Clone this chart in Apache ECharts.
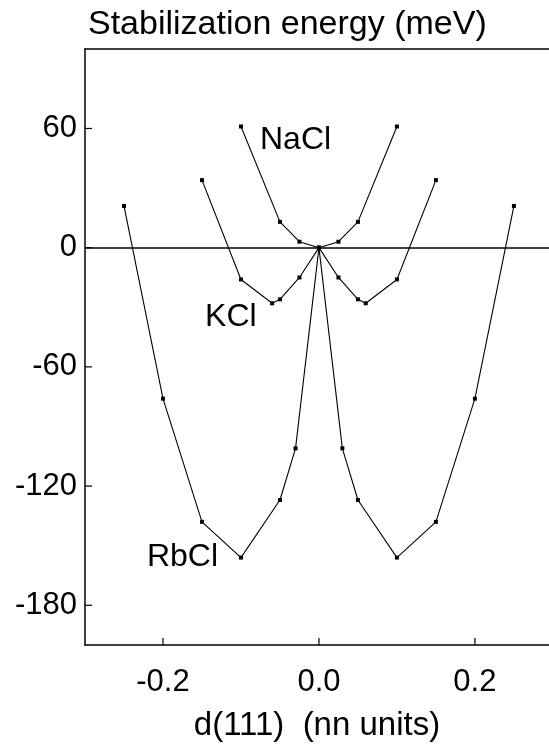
<!DOCTYPE html>
<html>
<head>
<meta charset="utf-8">
<script src="https://cdn.jsdelivr.net/npm/echarts@6/dist/echarts.min.js"></script>
<style>
  html, body { margin: 0; padding: 0; background: #fff; }
  #main { width: 549px; height: 749px; }
</style>
</head>
<body>
<div id="main"></div>
<script>
// d(111) in nn units vs stabilization energy in meV
const naclX = [-0.1, -0.05, -0.025, 0, 0.025, 0.05, 0.1];
const naclY = [61, 13, 3, 0, 3, 13, 61];

const kclX = [-0.15, -0.1, -0.06, -0.05, -0.025, 0, 0.025, 0.05, 0.06, 0.1, 0.15];
const kclY = [34, -16, -28, -26, -15, 0, -15, -26, -28, -16, 34];

const rbclX = [-0.25, -0.2, -0.15, -0.1, -0.05, -0.03, 0, 0.03, 0.05, 0.1, 0.15, 0.2, 0.25];
const rbclY = [21, -76, -138, -156, -127, -101, 0, -101, -127, -156, -138, -76, 21];

const xTicks = [-0.2, 0, 0.2];
const yTicks = [-180, -120, -60, 0, 60];

const xMin = -0.3, xMax = 0.295;
const yMin = -200, yMax = 100;

// where the curve names sit (data coords)
const labelPos = {
  NaCl: [-0.03, 54],
  KCl: [-0.113, -35],
  RbCl: [-0.175, -156]
};

const font = '"Liberation Sans", Arial, Helvetica, sans-serif';

function pairs(xs, ys) {
  return xs.map((x, i) => [x, ys[i]]);
}

function makeSeries(name, xs, ys) {
  return {
    name: name,
    type: 'line',
    data: pairs(xs, ys),
    symbol: 'rect',
    symbolSize: 4,
    itemStyle: { color: '#000' },
    lineStyle: { color: '#000', width: 1.1 },
    animation: false,
    markPoint: {
      symbol: 'rect',
      symbolSize: 0,
      data: [{ coord: labelPos[name] }],
      label: {
        show: true,
        position: 'inside',
        formatter: name,
        color: '#000',
        fontSize: 32,
        fontFamily: font
      }
    }
  };
}

// a short inward tick mark drawn as a tiny line series
function tickSeries(points) {
  return {
    type: 'line',
    data: points,
    symbol: 'none',
    silent: true,
    clip: false,
    lineStyle: { color: '#000', width: 1.2 },
    animation: false
  };
}

const chart = echarts.init(document.getElementById('main'));

const series = [
  makeSeries('NaCl', naclX, naclY),
  makeSeries('KCl', kclX, kclY),
  makeSeries('RbCl', rbclX, rbclY)
];

// horizontal zero line
series[0].markLine = {
  silent: true,
  symbol: 'none',
  label: { show: false },
  lineStyle: { color: '#000', width: 1.5, type: 'solid' },
  data: [{ yAxis: 0 }]
};

yTicks.forEach(v => series.push(tickSeries([[xMin, v], [xMin + 0.009, v]])));
xTicks.forEach(v => series.push(tickSeries([[v, yMin], [v, yMin + 3.5]])));

chart.setOption({
  backgroundColor: '#fff',
  animation: false,
  graphic: [{
    type: 'text',
    left: 88,
    top: 8,
    style: {
      text: 'Stabilization energy (meV)',
      fontSize: 34,
      fontFamily: font,
      fill: '#000'
    }
  }],
  grid: {
    left: 85,
    right: 0,
    top: 49,
    bottom: 104
  },
  xAxis: [{
    type: 'value',
    min: xMin,
    max: xMax,
    name: 'd(111)  (nn units)',
    nameLocation: 'middle',
    nameGap: 64,
    nameTextStyle: { fontSize: 33, fontFamily: font, color: '#000' },
    axisLine: { show: true, onZero: false, lineStyle: { color: '#000', width: 1.5 } },
    axisTick: { show: false },
    axisLabel: {
      customValues: xTicks,
      margin: 22,
      fontSize: 31,
      fontFamily: font,
      color: '#000',
      formatter: v => v.toFixed(1)
    },
    splitLine: { show: false }
  }, {
    // top frame line only
    type: 'value',
    position: 'top',
    min: xMin,
    max: xMax,
    axisLine: { show: true, onZero: false, lineStyle: { color: '#000', width: 1.5 } },
    axisTick: { show: false },
    axisLabel: { show: false },
    splitLine: { show: false }
  }],
  yAxis: {
    type: 'value',
    min: yMin,
    max: yMax,
    axisLine: { show: true, onZero: false, lineStyle: { color: '#000', width: 1.5 } },
    axisTick: { show: false },
    axisLabel: {
      customValues: yTicks,
      margin: 8,
      fontSize: 31,
      fontFamily: font,
      color: '#000'
    },
    splitLine: { show: false }
  },
  series: series
});
</script>
</body>
</html>
